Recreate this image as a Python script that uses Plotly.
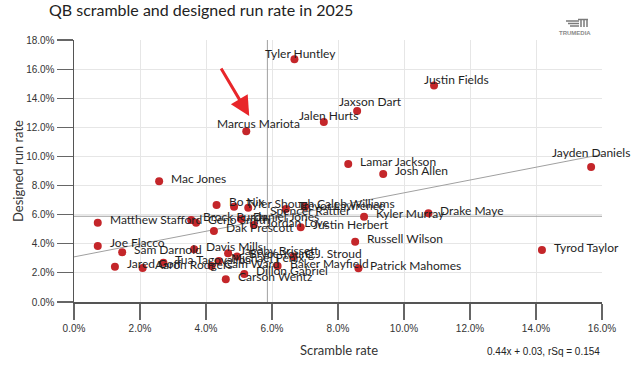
import plotly.graph_objects as go

# ---------------- data ----------------
players = [
    "Tyler Huntley", "Justin Fields", "Jaxson Dart", "Jalen Hurts", "Marcus Mariota",
    "Lamar Jackson", "Josh Allen", "Jayden Daniels", "Mac Jones", "Bo Nix",
    "Tyler Shough", "Spencer Rattler", "Trevor Lawrence", "Caleb Williams", "Drake Maye",
    "Kyler Murray", "Matthew Stafford", "Brock Purdy", "Geno Smith", "Daniel Jones",
    "Jordan Love", "Justin Herbert", "Dak Prescott", "Joe Flacco", "Sam Darnold",
    "Davis Mills", "Jacoby Brissett", "Bryce Young", "C.J. Stroud", "Russell Wilson",
    "Tua Tagovailoa", "Michael Penix", "Jared Goff", "Aaron Rodgers", "Cam Ward",
    "Baker Mayfield", "Dillon Gabriel", "Patrick Mahomes", "Carson Wentz", "Tyrod Taylor",
]
scramble_rate = [
    6.68, 10.91, 8.58, 7.57, 5.22,
    8.31, 9.37, 15.67, 2.58, 4.32,
    4.85, 5.28, 6.42, 7.00, 10.74,
    8.79, 0.72, 3.55, 3.70, 5.06,
    5.45, 6.87, 4.24, 0.72, 1.46,
    3.64, 4.67, 4.94, 6.65, 8.52,
    2.71, 4.39, 1.24, 2.08, 4.17,
    6.17, 5.16, 8.62, 4.60, 14.18,
]
designed_run_rate = [
    16.68, 14.87, 13.13, 12.37, 11.73,
    9.48, 8.80, 9.28, 8.30, 6.67,
    6.55, 6.48, 6.39, 6.55, 6.10,
    5.86, 5.45, 5.64, 5.45, 5.70,
    5.29, 5.13, 4.88, 3.85, 3.41,
    3.63, 3.35, 3.13, 3.12, 4.14,
    2.70, 2.82, 2.43, 2.34, 2.47,
    2.47, 1.93, 2.32, 1.56, 3.57,
]
avg_scramble = 5.86
avg_designed = 5.89
fit_slope = 0.44
fit_intercept = 3.1
fit_text = "0.44x + 0.03, rSq = 0.154"
x_ticks = [0, 2, 4, 6, 8, 10, 12, 14, 16]
y_ticks = [0, 2, 4, 6, 8, 10, 12, 14, 16, 18]
x_tick_labels = ["0.0%", "2.0%", "4.0%", "6.0%", "8.0%", "10.0%", "12.0%", "14.0%", "16.0%"]
y_tick_labels = ["0.0%", "2.0%", "4.0%", "6.0%", "8.0%", "10.0%", "12.0%", "14.0%", "16.0%", "18.0%"]
highlight = "Marcus Mariota"

# ---------------- styling ----------------
W, H = 638, 368
ML, MR, MT, MB = 74, 36, 40, 66
DOT = "#c4262a"
TXT = "#1f1f1f"
GRAY_LINE = "#a0a0a0"

# label placement overrides: (xanchor, xshift, yshift)
label_style = {
    "Tyler Huntley": ("center", 6, 6),
    "Justin Fields": ("left", -12, 6),
    "Jaxson Dart": ("left", -20, 9),
    "Jalen Hurts": ("left", -27, 6),
    "Marcus Mariota": ("left", -31, 8),
    "Jayden Daniels": ("left", -41, 14),
    "Spencer Rattler": ("left", 20, -3),
}

fig = go.Figure()

# average lines and regression line
fig.add_trace(go.Scatter(x=[avg_scramble, avg_scramble], y=[y_ticks[0], y_ticks[-1]],
                         mode="lines", line=dict(color=GRAY_LINE, width=1),
                         hoverinfo="skip", showlegend=False))
fig.add_trace(go.Scatter(x=[x_ticks[0], x_ticks[-1]], y=[avg_designed, avg_designed],
                         mode="lines", line=dict(color=GRAY_LINE, width=1),
                         hoverinfo="skip", showlegend=False))
fx = [x_ticks[0], x_ticks[-1]]
fig.add_trace(go.Scatter(x=fx, y=[fit_intercept + fit_slope * v for v in fx],
                         mode="lines", line=dict(color=GRAY_LINE, width=1),
                         hoverinfo="skip", showlegend=False))

# points
fig.add_trace(go.Scatter(x=scramble_rate, y=designed_run_rate, mode="markers",
                         marker=dict(color=DOT, size=8, line=dict(width=0)),
                         text=players, showlegend=False))

annotations = []
for n, xv, yv in zip(players, scramble_rate, designed_run_rate):
    xa, xs, ys = label_style.get(n, ("left", 10, 3))
    annotations.append(dict(x=xv, y=yv, xref="x", yref="y", text=n, showarrow=False,
                            xanchor=xa, yanchor="middle", xshift=xs, yshift=ys,
                            font=dict(family="Lato", size=12, color=TXT)))

# red arrow pointing to highlighted player
hi = players.index(highlight)
annotations.append(dict(x=scramble_rate[hi] + 0.09, y=designed_run_rate[hi] + 1.05,
                        xref="x", yref="y", ax=-29, ay=-49, axref="pixel", ayref="pixel",
                        text="", showarrow=True, arrowhead=2, arrowsize=1.3,
                        arrowwidth=3, arrowcolor="#e8262a"))

PW = W - ML - MR
PH = H - MT - MB

# titles / notes
annotations += [
    dict(xref="paper", yref="paper", x=(339 - ML) / PW, y=-(350 - (H - MB)) / PH,
         text="Scramble rate", showarrow=False, xanchor="center", yanchor="middle",
         font=dict(family="Lato", size=13, color="#333")),
    dict(xref="paper", yref="paper", x=-(ML - 18) / PW, y=((H - MB) - 171) / PH,
         text="Designed run rate", textangle=-90, showarrow=False, xanchor="center",
         yanchor="middle", font=dict(family="Lato", size=13, color="#333")),
    dict(xref="paper", yref="paper", x=1.0, y=-(351 - (H - MB)) / PH,
         text=fit_text, showarrow=False, xanchor="right", yanchor="middle",
         font=dict(family="Arial, Liberation Sans", size=10, color="#222")),
    dict(xref="paper", yref="paper", x=(575 - ML) / PW, y=((H - MB) - 33) / PH,
         text="<b>TRUMEDIA</b>", showarrow=False, xanchor="center", yanchor="middle",
         font=dict(family="Arial, Liberation Sans", size=6, color="#8a8a8a")),
]


def px2paper(px, py):
    return (px - ML) / PW, ((H - MB) - py) / PH


shapes = []
for (x0, y0, x1, y1) in [(566, 21, 579, 21), (568, 23.5, 579, 23.5), (570, 26, 579, 26),
                         (578, 19.5, 588, 19.5), (581, 19.5, 581, 27), (584, 19.5, 584, 27),
                         (587, 19.5, 587, 27)]:
    a = px2paper(x0, y0)
    b = px2paper(x1, y1)
    shapes.append(dict(type="line", xref="paper", yref="paper", x0=a[0], y0=a[1], x1=b[0], y1=b[1],
                       line=dict(color="#7a7a7a", width=1.5)))

axis_common = dict(
    showgrid=True, gridcolor="#e6e6e6", gridwidth=1,
    showline=True, linecolor="#555", linewidth=1.5,
    ticks="outside", ticklen=16, tickcolor="#666", tickwidth=1.2,
    tickfont=dict(family="Arial, Liberation Sans", size=10, color="#333"),
    zeroline=False, tickmode="array",
)

fig.update_layout(
    width=W, height=H,
    margin=dict(l=ML, r=MR, t=MT, b=MB, autoexpand=False),
    paper_bgcolor="white", plot_bgcolor="white",
    title=dict(text="QB scramble and designed run rate in 2025", x=49 / W, xanchor="left",
               y=1 - 10 / H, yanchor="middle",
               font=dict(family="Lato", size=16, color="#222")),
    xaxis=dict(range=[x_ticks[0], x_ticks[-1]], tickvals=x_ticks, ticktext=x_tick_labels, **axis_common),
    yaxis=dict(range=[y_ticks[0], y_ticks[-1]], tickvals=y_ticks, ticktext=y_tick_labels, **axis_common),
    annotations=annotations,
    shapes=shapes,
    showlegend=False,
    hovermode=False,
)

fig.write_html("out.html", config={"displayModeBar": False, "staticPlot": True},
               post_script="document.body.style.margin='0';document.body.style.padding='0';")
